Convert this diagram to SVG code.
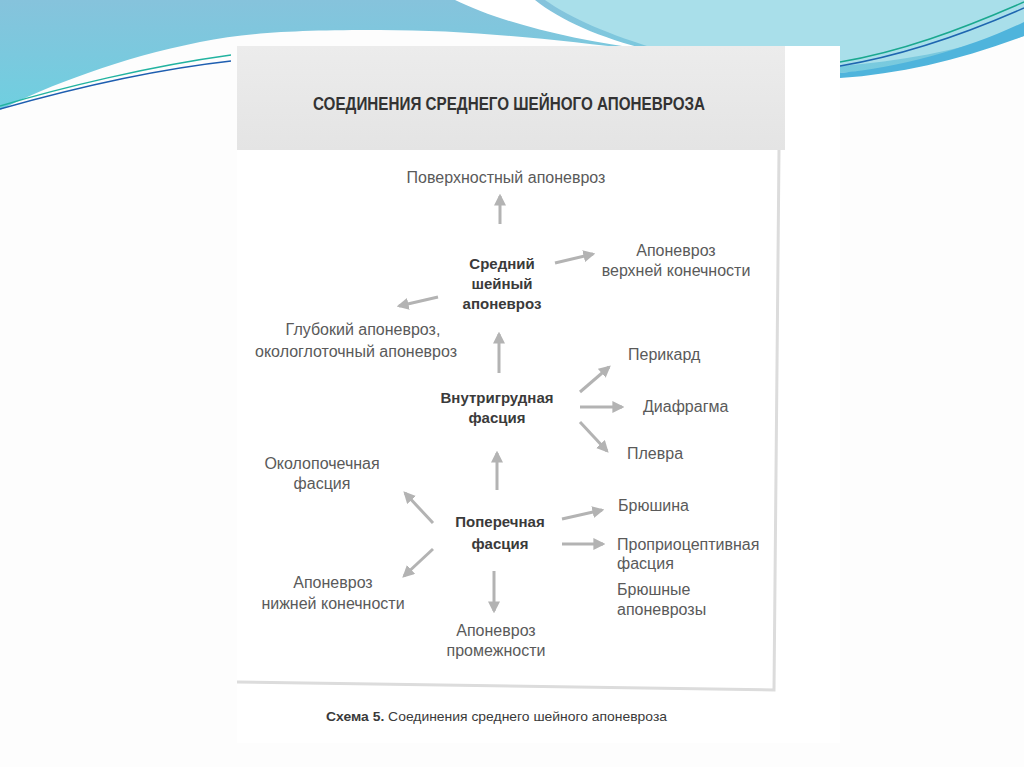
<svg xmlns="http://www.w3.org/2000/svg" width="1024" height="767" viewBox="0 0 1024 767">
<defs>
<linearGradient id="bl" x1="0" y1="0" x2="0" y2="1">
<stop offset="0" stop-color="#86c3dc"/>
<stop offset="1" stop-color="#6fcfe0"/>
</linearGradient>
<linearGradient id="hdr" x1="0" y1="0" x2="0" y2="1">
<stop offset="0" stop-color="#ececec"/>
<stop offset="1" stop-color="#e4e4e4"/>
</linearGradient>
<marker id="ah" viewBox="0 0 10 10" refX="8" refY="5" markerWidth="4" markerHeight="4" orient="auto" markerUnits="strokeWidth">
<path d="M0,0 L10,5 L0,10 Z" fill="#b3b3b3"/>
</marker>
<style>
.lbl{font-family:"Liberation Sans","DejaVu Sans",sans-serif;font-size:16px;fill:#5a5a5a}
.nd{font-family:"Liberation Sans","DejaVu Sans",sans-serif;font-size:15px;font-weight:bold;fill:#3a3a3a;text-anchor:middle}
.c{text-anchor:middle}
.ar{stroke:#b3b3b3;stroke-width:3;fill:none;marker-end:url(#ah)}
</style>
</defs>
<rect width="1024" height="767" fill="#fdfdfd"/>
<!-- decorative header waves -->
<path d="M0,0 H1024 V36 C960,56 900,70 840,73 L640,50 C560,40 470,30 380,30 C300,30 250,32 200,42 C120,58 50,85 0,110 Z" fill="url(#bl)"/>
<path d="M520,0 H1024 V30 C960,50 900,62 840,66 L660,50 C610,35 570,18 545,0 Z" fill="#a9dfea"/>
<path d="M455,0 C500,22 570,40 650,50 C600,38 560,20 535,0 Z" fill="#ffffff"/>
<path d="M840,73 C900,68 970,48 1024,22 V36 C960,60 900,74 840,78 Z" fill="#4fb4dc"/>
<path d="M840,62 C900,52 960,30 1024,2" stroke="#1aa88f" stroke-width="1.5" fill="none"/>
<path d="M840,66 C900,56 965,34 1024,8" stroke="#1e66b0" stroke-width="1.5" fill="none"/>
<path d="M0,106 C60,88 150,66 231,55" stroke="#22b3a0" stroke-width="1.5" fill="none"/>
<path d="M0,109 C60,92 150,70 231,61" stroke="#1e5eb0" stroke-width="1.5" fill="none"/>
<!-- page -->
<rect x="237" y="46" width="603" height="697" fill="#ffffff"/>
<rect x="237" y="46" width="548" height="104" fill="url(#hdr)"/>
<polyline points="237,682 774,690 779,150" fill="none" stroke="#dcdcdc" stroke-width="3"/>
<text x="509" y="110" text-anchor="middle" font-family="Liberation Sans Narrow,Liberation Sans,sans-serif" font-weight="bold" font-size="18.5" fill="#333333" textLength="392" lengthAdjust="spacingAndGlyphs">СОЕДИНЕНИЯ СРЕДНЕГО ШЕЙНОГО АПОНЕВРОЗА</text>
<!-- connectors -->
<g id="connectors">
<line class="ar" x1="500" y1="224" x2="500" y2="196"/>
<line class="ar" x1="555" y1="263" x2="593" y2="254"/>
<line class="ar" x1="438" y1="297" x2="399" y2="306"/>
<line class="ar" x1="499" y1="373" x2="499" y2="334"/>
<line class="ar" x1="580" y1="392" x2="609" y2="367"/>
<line class="ar" x1="580" y1="407" x2="622" y2="407"/>
<line class="ar" x1="580" y1="422" x2="607" y2="451"/>
<line class="ar" x1="497" y1="490" x2="497" y2="453"/>
<line class="ar" x1="433" y1="523" x2="405" y2="493"/>
<line class="ar" x1="562" y1="519" x2="602" y2="510"/>
<line class="ar" x1="562" y1="544" x2="603" y2="544"/>
<line class="ar" x1="433" y1="549" x2="404" y2="576"/>
<line class="ar" x1="494" y1="571" x2="494" y2="611"/>
</g>
<!-- nodes -->
<g id="n-poverkh"><text class="lbl c" x="506" y="183">Поверхностный апоневроз</text></g>
<g id="n-sredniy"><text class="nd" x="502" y="269">Средний</text><text class="nd" x="502" y="289">шейный</text><text class="nd" x="502" y="309">апоневроз</text></g>
<g id="n-verkh"><text class="lbl c" x="676" y="256">Апоневроз</text><text class="lbl c" x="676" y="276">верхней конечности</text></g>
<g id="n-glub"><text class="lbl c" x="363" y="335">Глубокий апоневроз,</text><text class="lbl c" x="356" y="357">окологлоточный апоневроз</text></g>
<g id="n-vnutri"><text class="nd" x="497" y="403">Внутригрудная</text><text class="nd" x="497" y="423">фасция</text></g>
<g id="n-perikard"><text class="lbl" x="628" y="360">Перикард</text></g>
<g id="n-diafragma"><text class="lbl" x="643" y="412">Диафрагма</text></g>
<g id="n-plevra"><text class="lbl" x="627" y="459">Плевра</text></g>
<g id="n-okolopoch"><text class="lbl c" x="322" y="469">Околопочечная</text><text class="lbl c" x="322" y="489">фасция</text></g>
<g id="n-poperech"><text class="nd" x="500" y="527">Поперечная</text><text class="nd" x="500" y="549">фасция</text></g>
<g id="n-bryushina"><text class="lbl" x="618" y="511">Брюшина</text></g>
<g id="n-propr"><text class="lbl" x="617" y="550">Проприоцептивная</text><text class="lbl" x="617" y="569">фасция</text></g>
<g id="n-bryushnye"><text class="lbl" x="617" y="595">Брюшные</text><text class="lbl" x="617" y="615">апоневрозы</text></g>
<g id="n-nizh"><text class="lbl c" x="333" y="588">Апоневроз</text><text class="lbl c" x="333" y="609">нижней конечности</text></g>
<g id="n-promezh"><text class="lbl c" x="496" y="636">Апоневроз</text><text class="lbl c" x="496" y="656">промежности</text></g>
<text x="326" y="721" font-family="Liberation Sans,sans-serif" font-size="13.5" fill="#3a3a3a" textLength="341" lengthAdjust="spacingAndGlyphs"><tspan font-weight="bold">Схема 5.</tspan> Соединения среднего шейного апоневроза</text>
</svg>
